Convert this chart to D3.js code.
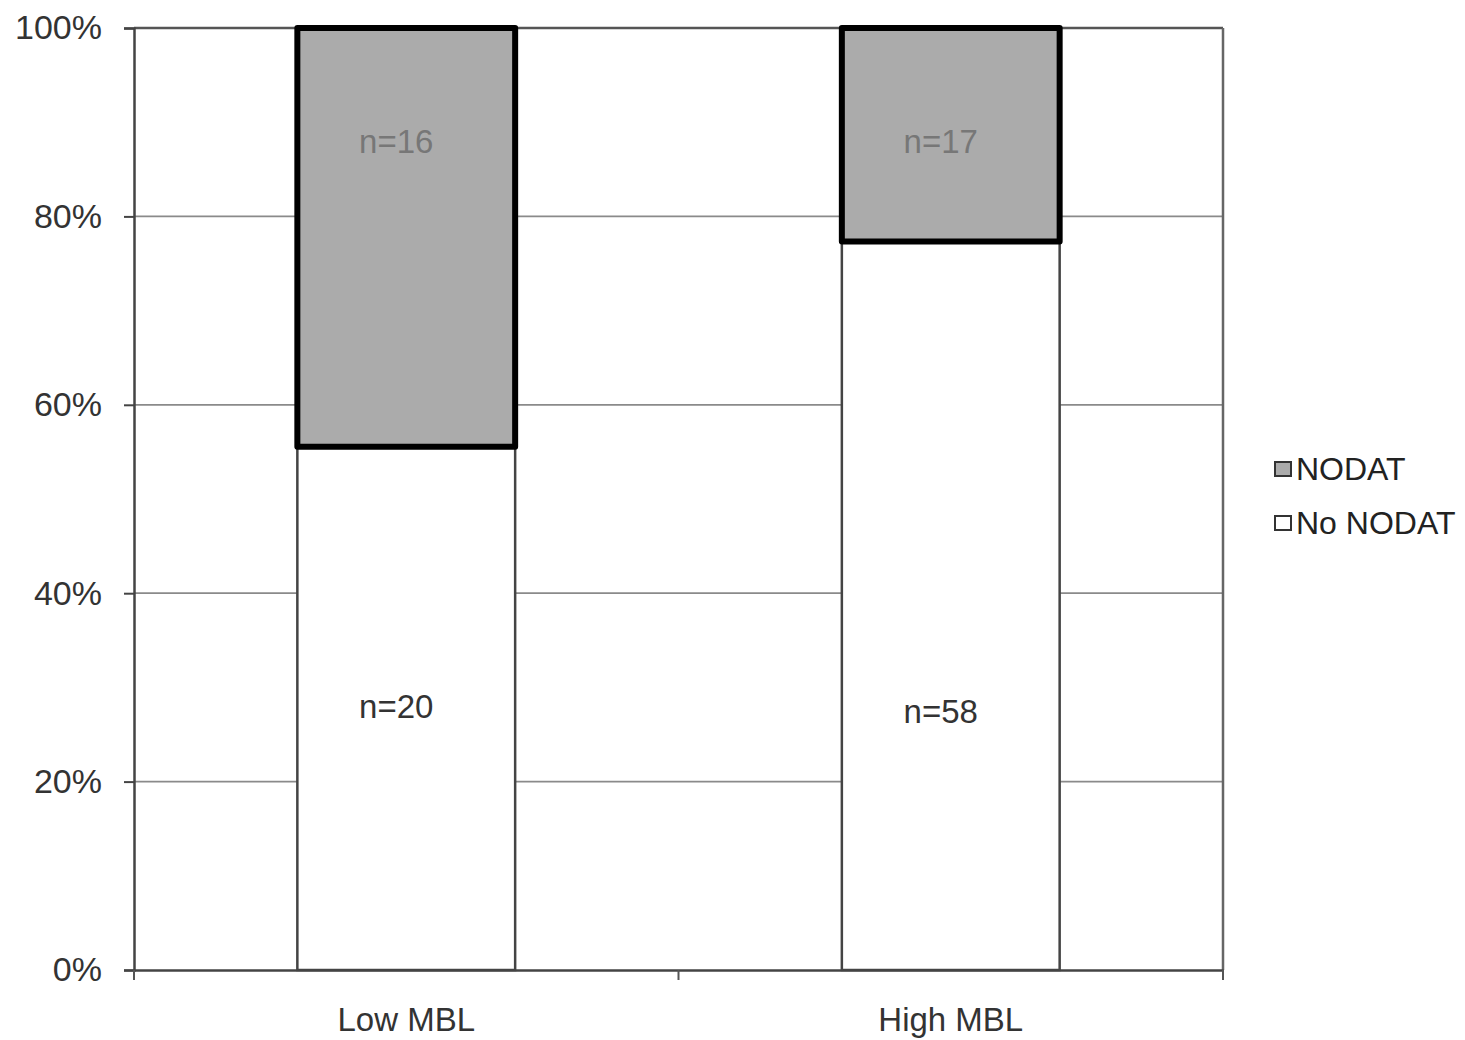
<!DOCTYPE html>
<html><head><meta charset="utf-8">
<script src="https://cdn.jsdelivr.net/npm/d3@7"></script>
<style>body{margin:0;background:#fff}svg{display:block;font-family:"Liberation Sans",Arial,sans-serif}</style>
</head><body>
<svg id="c" width="1465" height="1040"></svg>
<script>
const categories = ["Low MBL", "High MBL"];
const seriesNames = ["No NODAT", "NODAT"];
const noNodat = [20, 58];
const nodat = [16, 17];
const yTicks = [0, 20, 40, 60, 80, 100];
const labelAt = [[28, 88], [27.4, 88]]; // label heights in % for [No NODAT, NODAT]

const svg = d3.select("#c");
const L = 134, R = 1223, T = 28, B = 970;
const x = d3.scaleBand().domain(categories).range([L, R]).paddingInner(0.6).paddingOuter(0.3);
const y = d3.scaleLinear().domain([0, 100]).range([B, T]);

// grid
svg.append("g").selectAll("line").data(yTicks.filter(d => d > 0)).join("line")
  .attr("x1", L).attr("x2", R).attr("y1", d => y(d)).attr("y2", d => y(d))
  .attr("stroke", d => d === 100 ? "#555" : "#8a8a8a").attr("stroke-width", d => d === 100 ? 2.5 : 1.8);
// right border
svg.append("line").attr("x1", R).attr("x2", R).attr("y1", T).attr("y2", B).attr("stroke", "#666").attr("stroke-width", 2.5);

const data = categories.map((c, i) => {
  const tot = noNodat[i] + nodat[i];
  return {c, i, a: noNodat[i], b: nodat[i], pa: 100 * noNodat[i] / tot};
});

const g = svg.append("g");
// No NODAT segment
g.selectAll("rect.w").data(data).join("rect").attr("class", "w")
  .attr("x", d => x(d.c)).attr("width", x.bandwidth())
  .attr("y", d => y(d.pa)).attr("height", d => y(0) - y(d.pa))
  .attr("fill", "#fff").attr("stroke", "#444").attr("stroke-width", 2.5);
// NODAT segment
g.selectAll("rect.g").data(data).join("rect").attr("class", "g")
  .attr("x", d => x(d.c)).attr("width", x.bandwidth())
  .attr("y", y(100)).attr("height", d => y(d.pa) - y(100))
  .attr("fill", "#ababab").attr("stroke", "#000").attr("stroke-width", 6).attr("stroke-linejoin", "round");

// labels
g.selectAll("text.lw").data(data).join("text").attr("class", "lw")
  .attr("x", d => x(d.c) + x.bandwidth() / 2 - 10).attr("y", d => y(labelAt[d.i][0]))
  .attr("text-anchor", "middle").attr("dominant-baseline", "central")
  .attr("font-size", 33).attr("fill", "#333").text(d => "n=" + d.a);
g.selectAll("text.lg").data(data).join("text").attr("class", "lg")
  .attr("x", d => x(d.c) + x.bandwidth() / 2 - 10).attr("y", d => y(labelAt[d.i][1]))
  .attr("text-anchor", "middle").attr("dominant-baseline", "central")
  .attr("font-size", 33).attr("fill", "#777").text(d => "n=" + d.b);

// y axis
const ya = svg.append("g").attr("transform", `translate(${L},0)`)
  .call(d3.axisLeft(y).tickValues(yTicks).tickFormat(d => d + "%").tickSize(10).tickPadding(22));
ya.select(".domain").attr("stroke", "#444").attr("stroke-width", 2.5);
ya.selectAll(".tick line").attr("stroke", "#444").attr("stroke-width", 2);
ya.selectAll("text").attr("font-size", 34).attr("fill", "#333").attr("font-family", "Liberation Sans, Arial, sans-serif");

// x axis
const xa = svg.append("g").attr("transform", `translate(0,${B})`)
  .call(d3.axisBottom(x).tickSize(0).tickPadding(38));
xa.select(".domain").attr("stroke", "#444").attr("stroke-width", 2.5);
xa.selectAll("text").attr("font-size", 33).attr("fill", "#333").attr("font-family", "Liberation Sans, Arial, sans-serif");
svg.append("g").selectAll("line").data([0, 1, 2]).join("line")
  .attr("x1", k => L + k * (R - L) / 2).attr("x2", k => L + k * (R - L) / 2)
  .attr("y1", B).attr("y2", B + 10).attr("stroke", "#555").attr("stroke-width", 2);

// legend
const leg = svg.append("g").attr("transform", "translate(1275,469)");
const legItems = [{n: "NODAT", f: "#ababab"}, {n: "No NODAT", f: "#fff"}];
leg.selectAll("rect").data(legItems).join("rect")
  .attr("x", 0).attr("y", (d, i) => i * 54 - 7).attr("width", 16).attr("height", 14)
  .attr("fill", d => d.f).attr("stroke", "#333").attr("stroke-width", 2);
leg.selectAll("text").data(legItems).join("text")
  .attr("x", 21).attr("y", (d, i) => i * 54).attr("dominant-baseline", "central")
  .attr("font-size", 32).attr("fill", "#222").text(d => d.n);
</script>
</body></html>
